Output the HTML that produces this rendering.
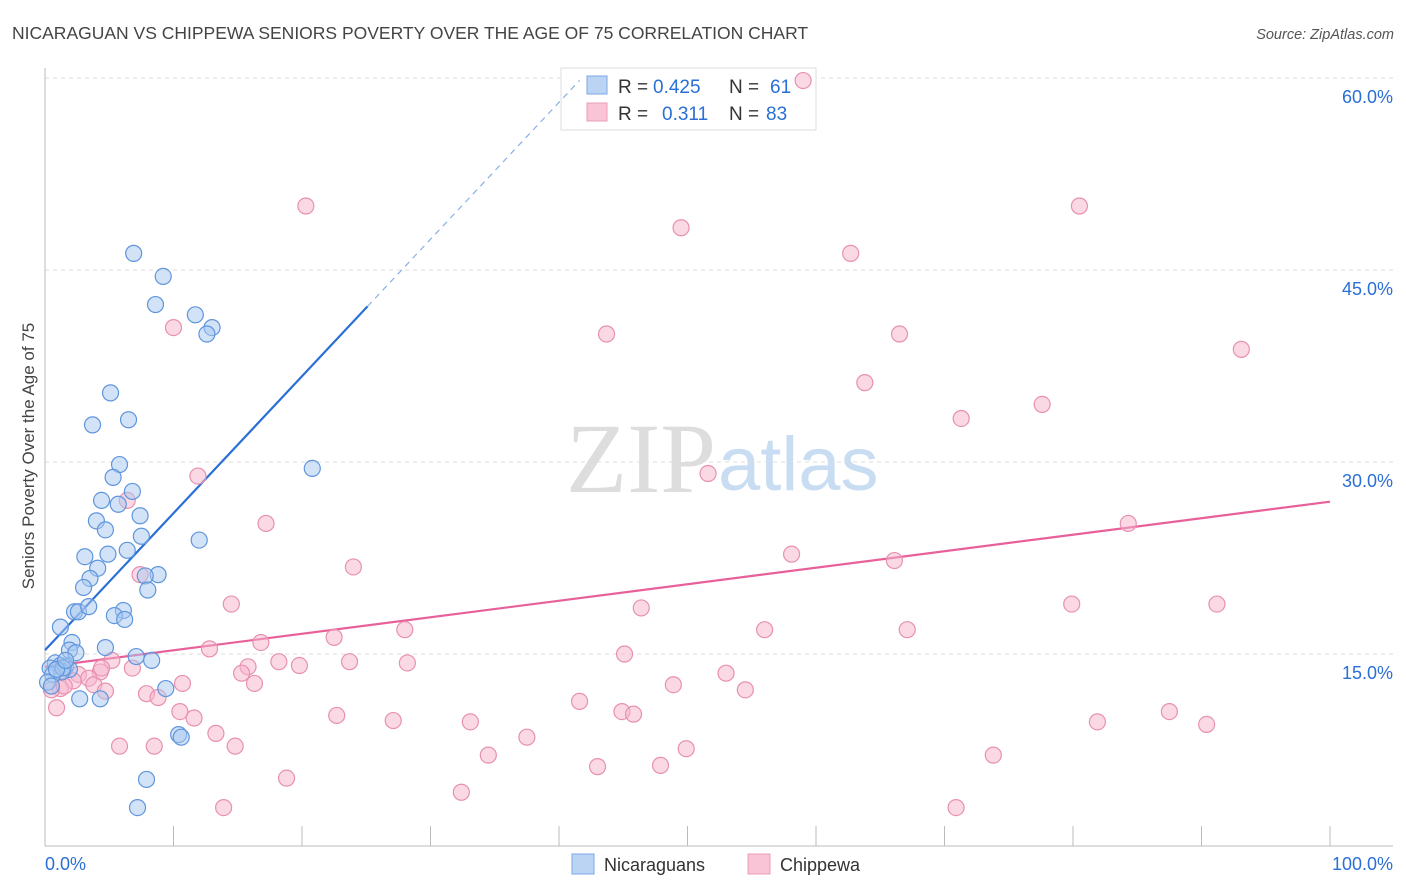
<!DOCTYPE html>
<html><head><meta charset="utf-8"><style>
body{margin:0;background:#fff;font-family:"Liberation Sans",sans-serif}
svg{display:block}
</style></head><body>
<svg id="chart" width="1406" height="892">
<text x="12" y="39" font-size="17.5" fill="#444">NICARAGUAN VS CHIPPEWA SENIORS POVERTY OVER THE AGE OF 75 CORRELATION CHART</text>
<text x="1394" y="39" font-size="14.5" fill="#555" font-style="italic" text-anchor="end">Source: ZipAtlas.com</text>
<text x="716" y="492" font-size="100" fill="#ddd" text-anchor="end" font-family="Liberation Serif,serif">ZIP</text>
<text x="718" y="490" font-size="76" fill="#c8dcf2">atlas</text>
<text transform="translate(34,456) rotate(-90)" font-size="17" fill="#444" text-anchor="middle">Seniors Poverty Over the Age of 75</text>
<g id="grid"></g><g id="axes"></g>
<g>
<rect x="561" y="68" width="255" height="62" fill="#fff" stroke="#ddd"/>
<rect x="587" y="76" width="20" height="18" fill="#bcd4f4" stroke="#7aa8e4"/>
<rect x="587" y="103" width="20" height="18" fill="#f8c4d6" stroke="#ec9cba"/>
<text x="618" y="93" font-size="19" fill="#333">R =</text>
<text x="653" y="93" font-size="19" fill="#2a6fd6">0.425</text>
<text x="729" y="93" font-size="19" fill="#333">N =</text>
<text x="770" y="93" font-size="19" fill="#2a6fd6">61</text>
<text x="618" y="120" font-size="19" fill="#333">R =</text>
<text x="662" y="120" font-size="19" fill="#2a6fd6">0.311</text>
<text x="729" y="120" font-size="19" fill="#333">N =</text>
<text x="766" y="120" font-size="19" fill="#2a6fd6">83</text>
</g>
<g id="lines"></g><g id="pts"></g>
<g>
<rect x="572" y="854" width="22" height="20" fill="#bcd4f4" stroke="#7aa8e4"/>
<text x="604" y="871" font-size="18" fill="#333">Nicaraguans</text>
<rect x="748" y="854" width="22" height="20" fill="#f8c4d6" stroke="#ec9cba"/>
<text x="780" y="871" font-size="18" fill="#333">Chippewa</text>
</g>
<text x="45" y="870" font-size="18" fill="#2a6fd6">0.0%</text>
<text x="1393" y="870" font-size="18" fill="#2a6fd6" text-anchor="end">100.0%</text>
</svg>
<script>
const yTicks=[15,30,45,60];
const yTickLabels=["15.0%","30.0%","45.0%","60.0%"];
const xTicks=[0,10,20,30,40,50,60,70,80,90,100];
const blueX=[6.9,9.2,8.6,11.7,13.0,12.6,5.1,6.5,3.7,5.8,5.3,4.4,6.8,5.7,4.0,7.4,4.7,7.5,6.4,3.1,4.9,12.0,4.1,3.5,8.8,7.8,3.0,8.0,2.3,2.6,3.4,6.1,5.4,6.2,1.2,20.8,2.1,4.7,1.9,2.4,7.1,8.3,0.8,1.2,0.4,1.6,1.9,1.3,0.6,0.2,0.5,9.4,2.7,4.3,10.4,10.6,7.9,7.2,1.4,0.9,1.6];
const blueY=[46.3,44.5,42.3,41.5,40.5,40.0,35.4,33.3,32.9,29.8,28.8,27.0,27.7,26.7,25.4,25.8,24.7,24.2,23.1,22.6,22.8,23.9,21.7,20.9,21.2,21.1,20.2,20.0,18.3,18.3,18.7,18.4,18.0,17.7,17.1,29.5,15.9,15.5,15.3,15.1,14.8,14.5,14.3,14.1,13.9,14.0,13.8,13.6,13.4,12.8,12.5,12.3,11.5,11.5,8.7,8.5,5.2,3.0,13.9,13.8,14.5];
const pinkX=[59.0,20.3,80.5,49.5,62.7,10.0,43.7,66.5,93.1,63.8,77.6,71.3,51.6,11.9,6.4,17.2,84.3,58.1,66.1,24.0,7.4,14.5,46.4,79.9,91.2,28.0,56.0,67.1,16.8,22.5,12.8,45.1,5.2,18.2,23.7,28.2,19.8,15.8,15.3,6.8,53.0,2.6,4.3,3.4,2.2,10.7,16.3,3.8,48.9,1.2,4.7,7.9,8.8,54.5,41.6,10.5,11.6,44.9,45.8,22.7,27.1,33.1,81.9,87.5,90.4,37.5,13.3,5.8,8.5,14.8,49.9,34.5,73.8,43.0,47.9,18.8,32.4,13.9,70.9,0.9,0.5,1.5,4.4];
const pinkY=[59.8,50.0,50.0,48.3,46.3,40.5,40.0,40.0,38.8,36.2,34.5,33.4,29.1,28.9,27.0,25.2,25.2,22.8,22.3,21.8,21.2,18.9,18.6,18.9,18.9,16.9,16.9,16.9,15.9,16.3,15.4,15.0,14.5,14.4,14.4,14.3,14.1,14.0,13.5,13.9,13.5,13.4,13.6,13.1,12.9,12.7,12.7,12.6,12.6,12.3,12.1,11.9,11.6,12.2,11.3,10.5,10.0,10.5,10.3,10.2,9.8,9.7,9.7,10.5,9.5,8.5,8.8,7.8,7.8,7.8,7.6,7.1,7.1,6.2,6.3,5.3,4.2,3.0,3.0,10.8,12.2,12.5,13.9];
const blueFit=[15.3,1.07];
const pinkFit=[14.0,0.129];
const NS="http://www.w3.org/2000/svg";
const X=v=>45+v*12.85, Y=v=>846-v*12.8;
function mk(p,t,a){const e=document.createElementNS(NS,t);for(const k in a)e.setAttribute(k,a[k]);p.appendChild(e);return e;}
const gridG=document.getElementById('grid'),axesG=document.getElementById('axes'),linesG=document.getElementById('lines'),ptsG=document.getElementById('pts');
yTicks.forEach((t,i)=>{
 const l=mk(gridG,'line',{x1:45,x2:1393,y1:Y(t),y2:Y(t),stroke:'#ddd','stroke-dasharray':'4,4'});
 
 
 const tx=mk(gridG,'text',{x:1393,y:Y(t)+25,'font-size':18,fill:'#2a6fd6','text-anchor':'end'});
 tx.textContent=yTickLabels[i];
 
 
});
const topGrid=mk(gridG,'line',{x1:45,x2:1393,y1:78,y2:78,stroke:'#ddd','stroke-dasharray':'4,4'});


mk(axesG,'line',{x1:45,x2:45,y1:68,y2:846,stroke:'#bbb'});
mk(axesG,'line',{x1:45,x2:1393,y1:846,y2:846,stroke:'#bbb'});
xTicks.forEach(t=>{const l=mk(axesG,'line',{x1:X(t),x2:X(t),y1:826,y2:846,stroke:'#bbb'});
 
 });
function dots(xs,ys,fill,stroke,name){xs.forEach((x,i)=>{const c=mk(ptsG,'circle',{cx:X(x),cy:Y(ys[i]),r:8,fill:fill,'fill-opacity':0.5,stroke:stroke,'stroke-width':1.2});
 
 });}
dots(pinkX,pinkY,'#f6b4cc','#e890b0','chippewa-point');
dots(blueX,blueY,'#a8c8f0','#5f95dc','nicaraguan-point');
const bx1=25.1,bx2=41.6;
const b1=mk(linesG,'line',{x1:X(0),y1:Y(blueFit[0]),x2:X(bx1),y2:Y(blueFit[0]+blueFit[1]*bx1),stroke:'#2a6fd6','stroke-width':2.2});


const b2=mk(linesG,'line',{x1:X(bx1),y1:Y(blueFit[0]+blueFit[1]*bx1),x2:X(bx2),y2:Y(blueFit[0]+blueFit[1]*bx2),stroke:'#8ab0e4','stroke-width':1.2,'stroke-dasharray':'6,5'});


const p1=mk(linesG,'line',{x1:X(0),y1:Y(pinkFit[0]),x2:X(100),y2:Y(pinkFit[0]+pinkFit[1]*100),stroke:'#e8609a','stroke-width':2.2});


</script>
</body></html>
